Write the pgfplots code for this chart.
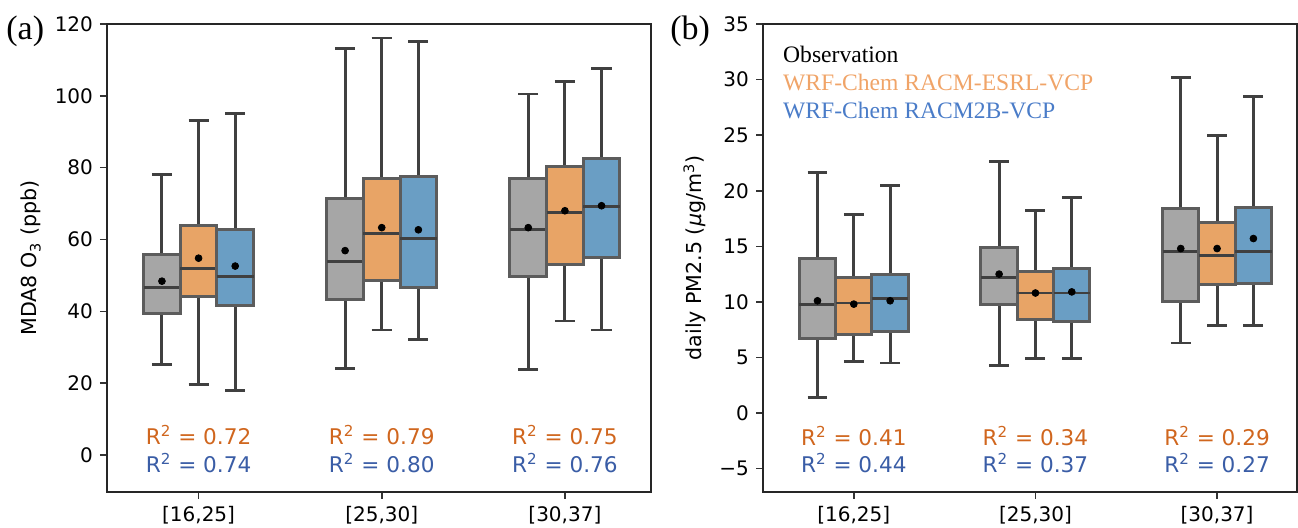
\documentclass[border=0pt]{standalone}
\usepackage{fontspec}
\setmainfont{DejaVu Sans}
\newfontfamily\timesfont{Liberation Serif}
\usepackage{pgfplots}
\pgfplotsset{compat=1.18}
\usepgfplotslibrary{statistics}

\definecolor{obsfill}{HTML}{A6A6A6}
\definecolor{esrlfill}{HTML}{E8A466}
\definecolor{rtwofill}{HTML}{6A9EC4}
\definecolor{edgec}{HTML}{5C5C5C}
\definecolor{whisk}{HTML}{404040}
\definecolor{rorange}{HTML}{D0661E}
\definecolor{rblue}{HTML}{3A5DA6}
\definecolor{legorange}{HTML}{F0A468}
\definecolor{legblue}{HTML}{4A7CC8}

% one box: position, fill, low whisker, q1, median, q3, high whisker
\newcommand{\bx}[7]{%
  \addplot[draw=edgec, fill=#2, boxplot prepared={draw direction=y,
    draw position=#1,
    lower whisker=#3, lower quartile=#4, median=#5,
    upper quartile=#6, upper whisker=#7}] coordinates {};}

\pgfplotsset{
  panel/.style={
    scale only axis, anchor=south west, clip=false,
    xmin=-0.5, xmax=2.47, xtick={0,1,2},
    xticklabels={{[16,25]},{[25,30]},{[30,37]}},
    tick align=outside, xtick pos=bottom, ytick pos=left,
    major tick length=3.5pt,
    tick style={line width=0.8pt, black!80},
    axis line style={line width=0.9pt, black!85},
    ticklabel style={font=\fontsize{10}{12}\selectfont},
    label style={font=\fontsize{10.3}{12}\selectfont},
    boxplot/draw direction=y,
    boxplot/box extend=0.2,
    boxplot/whisker extend=0.11,
    boxplot/every box/.style={draw=edgec, line width=1.5pt},
    boxplot/every whisker/.style={draw=whisk, line width=1.45pt},
    boxplot/every median/.style={draw=whisk, line width=1.45pt},
  },
  mean/.style={only marks, mark=*, mark size=1.7pt, black},
}
\tikzset{
  rtxt/.style={anchor=base, font=\fontsize{10.8}{12}\selectfont},
  legtxt/.style={anchor=base west, inner sep=0pt, font=\timesfont\fontsize{11.8}{13}\selectfont},
}

\begin{document}
\begin{tikzpicture}
\path[use as bounding box] (0,0) rectangle (649pt,264pt);

% (a) MDA8 O3
\begin{axis}[panel, at={(53.5pt,18pt)}, width=272pt, height=234pt,
  ymin=-10.3, ymax=120, ytick={0,20,...,120},
  yticklabels={0,20,40,60,80,100,120},
  ylabel={MDA8 O\textsubscript{3} (ppb)}]
\bx{-0.2}{obsfill}{25.3}{39.5}{46.6}{55.7}{78.0}
\bx{0.0}{esrlfill}{19.7}{44.1}{51.8}{63.9}{93.1}
\bx{0.2}{rtwofill}{18.0}{41.5}{49.6}{62.9}{95.0}
\bx{0.8}{obsfill}{24.1}{43.2}{53.8}{71.5}{113.1}
\bx{1.0}{esrlfill}{34.8}{48.5}{61.6}{76.9}{116.1}
\bx{1.2}{rtwofill}{32.2}{46.7}{60.2}{77.4}{115.1}
\bx{1.8}{obsfill}{23.9}{49.7}{62.7}{77.1}{100.5}
\bx{2.0}{esrlfill}{37.3}{52.9}{67.5}{80.3}{104.0}
\bx{2.2}{rtwofill}{34.8}{55.0}{69.2}{82.6}{107.7}
\addplot[mean] coordinates {(-0.2,48.4) (0,54.8) (0.2,52.6)
  (0.8,56.9) (1,63.3) (1.2,62.7) (1.8,63.3) (2,68.0) (2.2,69.4)};
\node[rtxt, text=rorange] at (axis cs:0,2.8) {R\textsuperscript{2} = 0.72};
\node[rtxt, text=rblue] at (axis cs:0,-4.9) {R\textsuperscript{2} = 0.74};
\node[rtxt, text=rorange] at (axis cs:1,2.8) {R\textsuperscript{2} = 0.79};
\node[rtxt, text=rblue] at (axis cs:1,-4.9) {R\textsuperscript{2} = 0.80};
\node[rtxt, text=rorange] at (axis cs:2,2.8) {R\textsuperscript{2} = 0.75};
\node[rtxt, text=rblue] at (axis cs:2,-4.9) {R\textsuperscript{2} = 0.76};
\end{axis}

% (b) daily PM2.5
\begin{axis}[panel, at={(381.5pt,18pt)}, width=267pt, height=234pt,
  xmax=2.44,
  ymin=-7.1, ymax=35, ytick={-5,0,...,35},
  yticklabels={−5,0,5,10,15,20,25,30,35},
  ylabel={daily PM2.5 (\textit{μ}g/m\textsuperscript{3})}]
\bx{-0.2}{obsfill}{1.44}{6.7}{9.8}{13.9}{21.6}
\bx{0.0}{esrlfill}{4.6}{7.1}{9.9}{12.2}{17.9}
\bx{0.2}{rtwofill}{4.5}{7.3}{10.3}{12.5}{20.5}
\bx{0.8}{obsfill}{4.3}{9.8}{12.2}{14.9}{22.6}
\bx{1.0}{esrlfill}{4.9}{8.4}{10.8}{12.7}{18.2}
\bx{1.2}{rtwofill}{4.9}{8.2}{10.8}{13.0}{19.4}
\bx{1.8}{obsfill}{6.3}{10.0}{14.5}{18.4}{30.2}
\bx{2.0}{esrlfill}{7.9}{11.6}{14.2}{17.1}{25.0}
\bx{2.2}{rtwofill}{7.9}{11.7}{14.5}{18.5}{28.5}
\addplot[mean] coordinates {(-0.2,10.1) (0,9.8) (0.2,10.1)
  (0.8,12.5) (1,10.8) (1.2,10.9) (1.8,14.8) (2,14.8) (2.2,15.7)};
\node[rtxt, text=rorange] at (axis cs:0,-2.88) {R\textsuperscript{2} = 0.41};
\node[rtxt, text=rblue] at (axis cs:0,-5.37) {R\textsuperscript{2} = 0.44};
\node[rtxt, text=rorange] at (axis cs:1,-2.88) {R\textsuperscript{2} = 0.34};
\node[rtxt, text=rblue] at (axis cs:1,-5.37) {R\textsuperscript{2} = 0.37};
\node[rtxt, text=rorange] at (axis cs:2,-2.88) {R\textsuperscript{2} = 0.29};
\node[rtxt, text=rblue] at (axis cs:2,-5.37) {R\textsuperscript{2} = 0.27};
\node[legtxt] at (rel axis cs:0.037,0.917) {Observation};
\node[legtxt, text=legorange] at (rel axis cs:0.037,0.857) {WRF-Chem RACM-ESRL-VCP};
\node[legtxt, text=legblue] at (rel axis cs:0.037,0.797) {WRF-Chem RACM2B-VCP};
\end{axis}

\node[anchor=west, inner sep=0pt, font=\timesfont\fontsize{17}{19}\selectfont] at (3pt,248.5pt) {(a)};
\node[anchor=west, inner sep=0pt, font=\timesfont\fontsize{17}{19}\selectfont] at (335pt,248.5pt) {(b)};
\end{tikzpicture}
\end{document}
